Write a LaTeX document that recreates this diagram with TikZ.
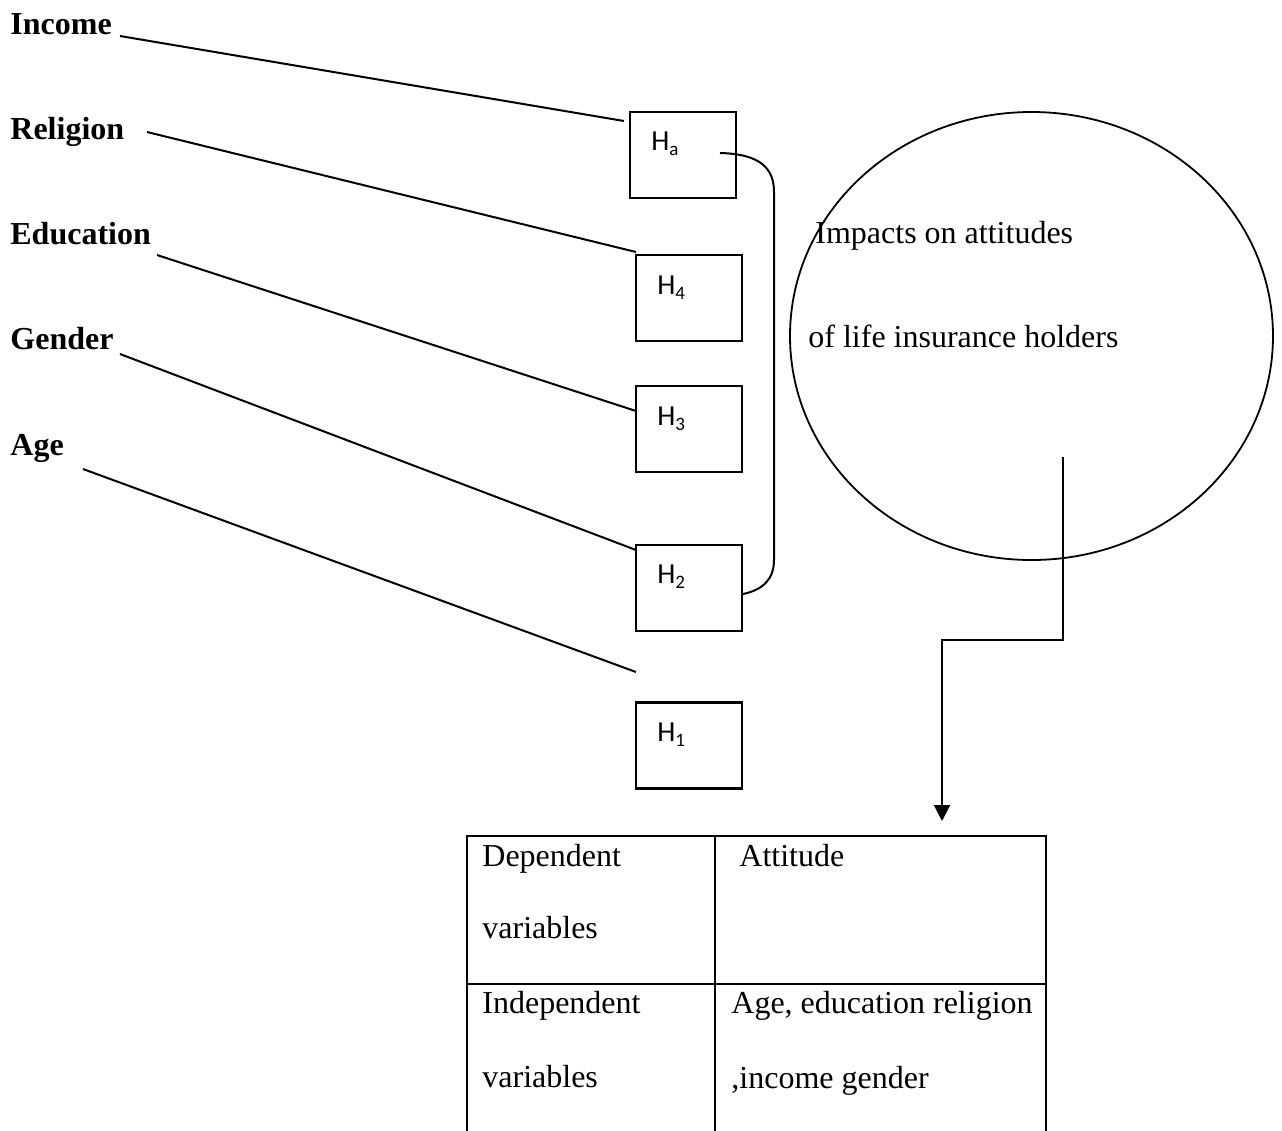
\documentclass[tikz,border=0pt]{standalone}
\usepackage{fontspec}
\setmainfont{Liberation Serif}
\newfontfamily\calfont{Carlito}
\usetikzlibrary{shapes.geometric,arrows.meta}
\newcommand{\hsub}[1]{\raisebox{-2.6pt}{\fontsize{9.5pt}{10pt}\selectfont #1}}
\tikzset{
  lbl/.style={anchor=base west, inner sep=0pt, font=\fontsize{16pt}{19pt}\selectfont\bfseries},
  txt/.style={anchor=base west, inner sep=0pt, font=\fontsize{16pt}{19pt}\selectfont},
  hbox/.style={draw, line width=1.1pt, minimum width=53pt, minimum height=43pt, inner sep=0pt},
  hlab/.style={anchor=base west, inner sep=0pt, font=\fontsize{14.5pt}{17pt}\calfont},
  link/.style={line width=1pt},
  tabline/.style={line width=1.2pt}
}
\begin{document}
\begin{tikzpicture}[x=0.5pt,y=-0.5pt]
\useasboundingbox (0,0) rectangle (1282,1131);
% left labels
\node[lbl] (inc) at (10,34) {Income};
\node[lbl] (rel) at (10,139) {Religion};
\node[lbl] (edu) at (10,244) {Education};
\node[lbl] (gen) at (10,349) {Gender};
\node[lbl] (age) at (10,455) {Age};
% boxes
\node[hbox] (Ha) at (683,155) {};
\node[hbox] (H4) at (689,298) {};
\node[hbox] (H3) at (689,429) {};
\node[hbox] (H2) at (689,588) {};
\node[hbox] (H1) at (689,745.5) {};
\node[hlab] (tHa) at (651,150) {H\hsub{a}};
\node[hlab] (tH4) at (657,294) {H\hsub{4}};
\node[hlab] (tH3) at (657,425) {H\hsub{3}};
\node[hlab] (tH2) at (657,583) {H\hsub{2}};
\node[hlab] (tH1) at (657,741) {H\hsub{1}};
% line end points
\coordinate (incS) at (120,36);  \coordinate (incE) at (624,121);
\coordinate (relS) at (147,132); \coordinate (relE) at (636,252);
\coordinate (eduS) at (157,255); \coordinate (eduE) at (636,411);
\coordinate (genS) at (120,354); \coordinate (genE) at (636,550);
\coordinate (ageS) at (83,469);  \coordinate (ageE) at (636,672);
\draw[link] (incS) -- (incE);
\draw[link] (relS) -- (relE);
\draw[link] (eduS) -- (eduE);
\draw[link] (genS) -- (genE);
\draw[link] (ageS) -- (ageE);
% bracket connector
\coordinate (brS) at (720,153);
\coordinate (brE) at (743,594);
\draw[link] (brS) .. controls (760,154) and (774,168) .. (774,192)
  -- (774,560) .. controls (774,580) and (762,590) .. (brE);
% ellipse
\node[draw, ellipse, line width=0.9pt, minimum width=241.5pt, minimum height=224pt, inner sep=0pt] (circ) at (1031.5,336) {};
\node[txt] (c1) at (815,243) {Impacts on attitudes};
\node[txt] (c2) at (808,347) {of life insurance holders};
% arrow
\coordinate (arS) at (1063,457);
\coordinate (arE) at (942,821);
\draw[link, -{Triangle[length=8pt,width=8pt]}] (arS) -- (1063,640) -- (942,640) -- (arE);
% table
\coordinate (tTL) at (467,836);
\coordinate (tTR) at (1046,836);
\draw[tabline] (467,1131) -- (tTL) -- (tTR) -- (1046,1131);
\draw[tabline] (467,984) -- (1046,984);
\draw[tabline] (715,836) -- (715,1131);
\node[txt] (d1) at (482,866) {Dependent};
\node[txt] (d2) at (482,938) {variables};
\node[txt] (i1) at (482,1013) {Independent};
\node[txt] (i2) at (482,1087) {variables};
\node[txt] (a1) at (739,866) {Attitude};
\node[txt] (a2) at (731,1013) {Age, education religion};
\node[txt] (a3) at (731,1088) {,income gender};
\end{tikzpicture}
\end{document}
